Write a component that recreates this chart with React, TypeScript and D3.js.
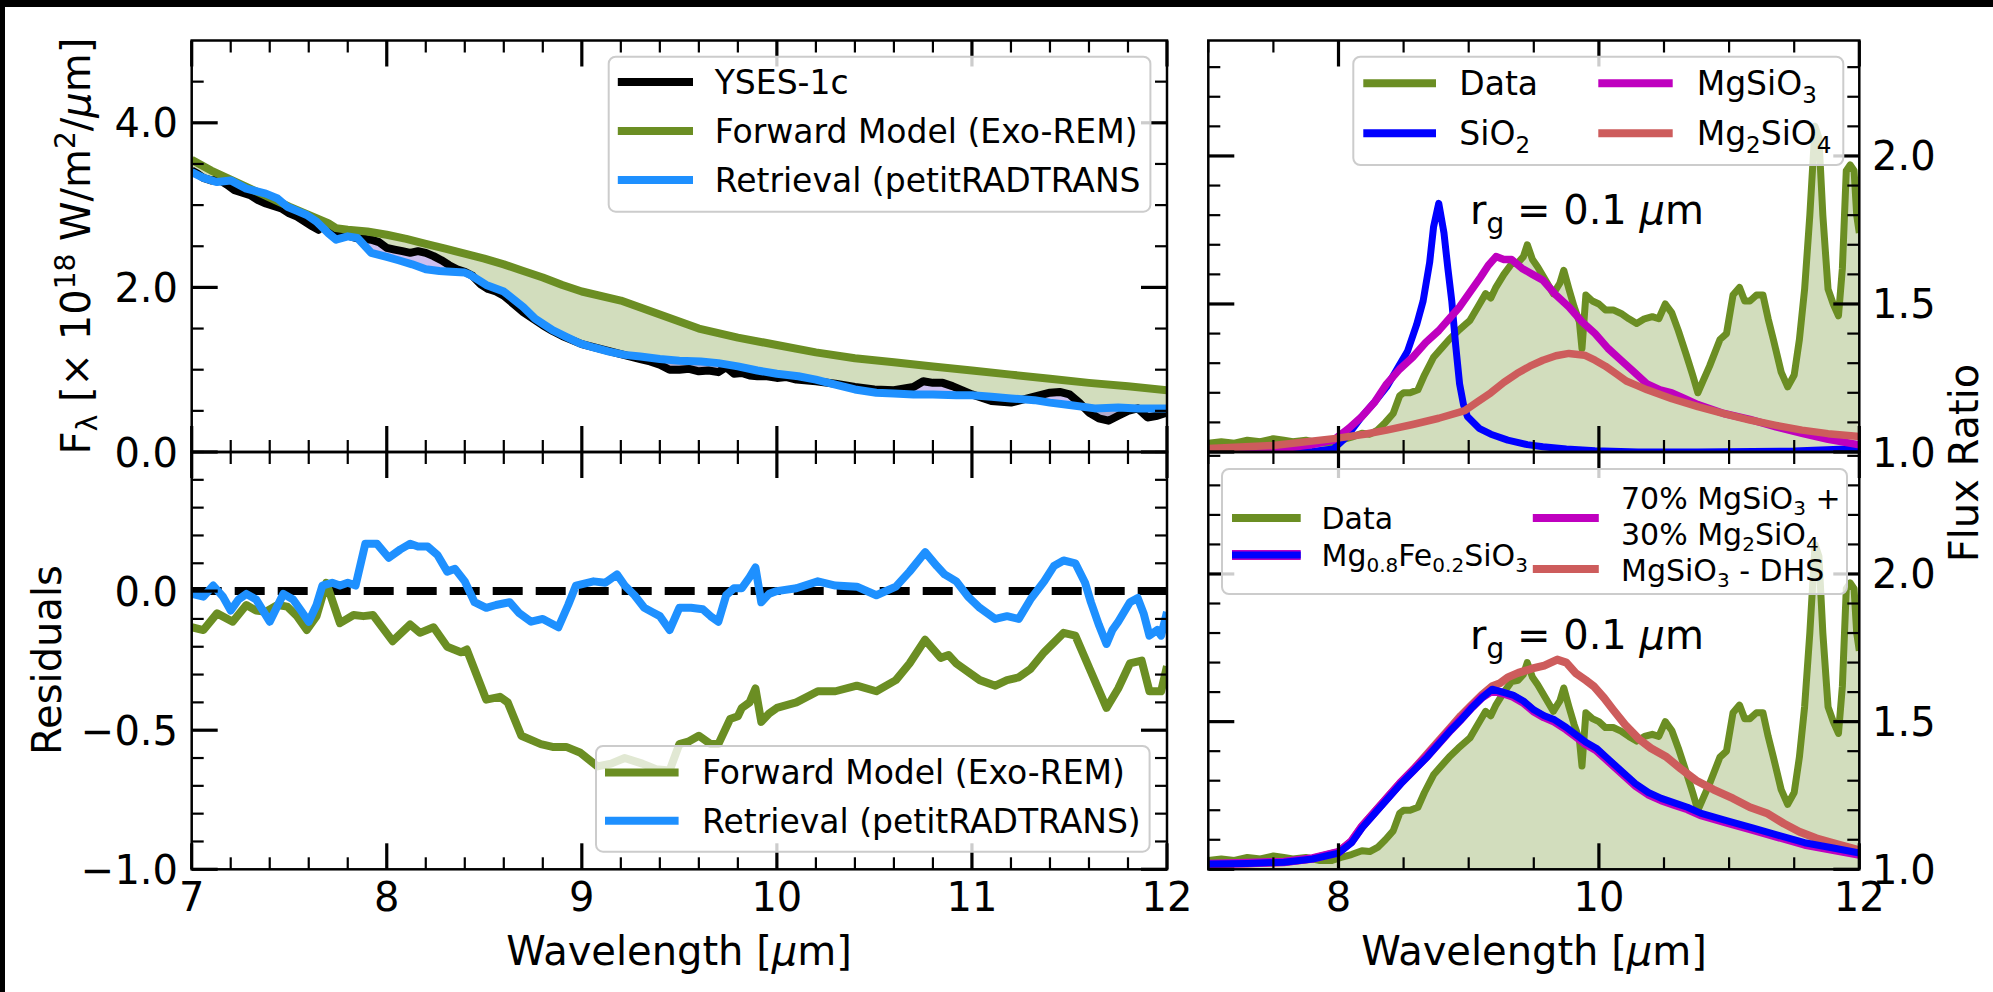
import React from 'react';
import * as d3 from 'd3';

const FONT = 'DejaVu Sans, sans-serif';

// ---------- Top-left: spectra ----------
const fwdWl = [7.0, 7.1, 7.2, 7.3, 7.4, 7.5, 7.6, 7.7, 7.74, 7.8, 7.9, 8.0, 8.1, 8.2, 8.3, 8.4, 8.5, 8.6, 8.7, 8.8, 8.9, 9.0, 9.2, 9.4, 9.6, 9.8, 10.0, 10.2, 10.4, 10.6, 10.8, 11.0, 11.2, 11.4, 11.6, 11.8, 12.0];
const fwdFlux = [3.55, 3.42, 3.31, 3.2, 3.09, 2.98, 2.88, 2.78, 2.72, 2.7, 2.68, 2.64, 2.59, 2.53, 2.47, 2.41, 2.35, 2.28, 2.2, 2.12, 2.03, 1.95, 1.84, 1.67, 1.5, 1.39, 1.3, 1.21, 1.14, 1.09, 1.04, 0.99, 0.94, 0.89, 0.84, 0.8, 0.75];

const dataWl = [7.0, 7.03, 7.06, 7.1, 7.14, 7.18, 7.22, 7.26, 7.3, 7.34, 7.38, 7.42, 7.46, 7.5, 7.54, 7.58, 7.62, 7.65, 7.68, 7.72, 7.76, 7.8, 7.84, 7.88, 7.92, 7.96, 8.0, 8.04, 8.08, 8.12, 8.16, 8.2, 8.24, 8.28, 8.32, 8.36, 8.4, 8.44, 8.48, 8.52, 8.56, 8.6, 8.65, 8.7, 8.75, 8.8, 8.85, 8.9, 8.95, 9.0, 9.05, 9.1, 9.15, 9.2, 9.25, 9.3, 9.35, 9.4, 9.45, 9.5, 9.55, 9.6, 9.65, 9.7, 9.74, 9.78, 9.82, 9.86, 9.9, 9.95, 10.0, 10.05, 10.1, 10.2, 10.3, 10.4, 10.5, 10.6, 10.7, 10.75, 10.8, 10.85, 10.9, 11.0, 11.1, 11.2, 11.3, 11.4, 11.45, 11.5, 11.55, 11.6, 11.65, 11.7, 11.75, 11.8, 11.85, 11.9, 11.95, 12.0];
const dataFlux = [3.42, 3.38, 3.33, 3.3, 3.31, 3.25, 3.18, 3.15, 3.12, 3.06, 3.02, 2.99, 2.96, 2.9, 2.86, 2.8, 2.74, 2.7, 2.78, 2.7, 2.62, 2.63, 2.6, 2.59, 2.58, 2.55, 2.48, 2.46, 2.44, 2.42, 2.44, 2.42, 2.38, 2.33, 2.27, 2.22, 2.19, 2.14, 2.04, 1.98, 1.95, 1.9, 1.8, 1.7, 1.62, 1.54, 1.47, 1.41, 1.36, 1.31, 1.28, 1.25, 1.22, 1.19, 1.16, 1.13, 1.1, 1.06, 1.0, 1.0, 1.01, 0.98, 0.99, 0.97, 1.03, 0.95, 0.96, 0.93, 0.92, 0.92, 0.9, 0.91, 0.88, 0.86, 0.83, 0.79, 0.76, 0.75, 0.79, 0.86, 0.84, 0.84, 0.8, 0.7, 0.62, 0.6, 0.66, 0.72, 0.73, 0.7, 0.6, 0.48, 0.41, 0.38, 0.44, 0.5, 0.53, 0.42, 0.44, 0.48];

const retWl = [7.0, 7.06, 7.13, 7.2, 7.28, 7.38, 7.44, 7.49, 7.54, 7.59, 7.64, 7.7, 7.74, 7.8, 7.85, 7.92, 8.0, 8.06, 8.13, 8.2, 8.27, 8.33, 8.4, 8.43, 8.51, 8.6, 8.7, 8.76, 8.85, 8.92, 8.99, 9.06, 9.14, 9.22, 9.3, 9.4, 9.5, 9.61, 9.7, 9.8, 9.9, 10.0, 10.11, 10.2, 10.3, 10.4, 10.51, 10.6, 10.7, 10.8, 10.92, 11.0, 11.1, 11.2, 11.32, 11.4, 11.5, 11.63, 11.75, 11.85, 12.0];
const retFlux = [3.4, 3.33, 3.28, 3.3, 3.2, 3.14, 3.08, 2.98, 2.93, 2.88, 2.8, 2.66, 2.58, 2.62, 2.6, 2.42, 2.37, 2.33, 2.28, 2.22, 2.2, 2.19, 2.18, 2.15, 2.03, 1.95, 1.76, 1.62, 1.48, 1.4, 1.32, 1.27, 1.22, 1.18, 1.16, 1.13, 1.11, 1.1, 1.08, 1.04, 0.99, 0.95, 0.92, 0.88, 0.82, 0.76, 0.72, 0.71, 0.7, 0.7, 0.69, 0.69, 0.67, 0.65, 0.63, 0.6, 0.57, 0.53, 0.54, 0.53, 0.53];

// ---------- Bottom-left: residuals ----------
const resFwdWl = [7.0, 7.06, 7.13, 7.21, 7.28, 7.33, 7.38, 7.44, 7.49, 7.54, 7.59, 7.64, 7.69, 7.76, 7.83, 7.88, 7.93, 8.03, 8.12, 8.17, 8.24, 8.31, 8.38, 8.41, 8.51, 8.58, 8.62, 8.69, 8.79, 8.85, 8.92, 8.99, 9.08, 9.15, 9.22, 9.31, 9.38, 9.45, 9.5, 9.55, 9.6, 9.66, 9.7, 9.76, 9.8, 9.82, 9.86, 9.89, 9.92, 9.96, 10.0, 10.1, 10.21, 10.3, 10.41, 10.51, 10.61, 10.68, 10.76, 10.84, 10.88, 10.92, 11.04, 11.12, 11.18, 11.24, 11.3, 11.37, 11.47, 11.53, 11.61, 11.69, 11.75, 11.81, 11.87, 11.91, 11.97, 12.0];
const resFwdVal = [-0.13, -0.14, -0.08, -0.11, -0.05, -0.07, -0.074, -0.05, -0.056, -0.09, -0.14, -0.09, 0.03, -0.115, -0.086, -0.09, -0.086, -0.18, -0.12, -0.15, -0.13, -0.2, -0.22, -0.21, -0.39, -0.38, -0.4, -0.52, -0.55, -0.56, -0.56, -0.58, -0.63, -0.62, -0.6, -0.62, -0.64, -0.645, -0.55, -0.54, -0.52, -0.55, -0.55, -0.46, -0.45, -0.42, -0.4, -0.35, -0.47, -0.44, -0.42, -0.4, -0.36, -0.36, -0.34, -0.36, -0.32, -0.26, -0.175, -0.24, -0.23, -0.26, -0.32, -0.34, -0.32, -0.31, -0.28, -0.22, -0.15, -0.16, -0.29, -0.42, -0.35, -0.26, -0.25, -0.36, -0.36, -0.27];

const resRetWl = [7.0, 7.06, 7.11, 7.16, 7.2, 7.24, 7.28, 7.33, 7.4, 7.47, 7.52, 7.56, 7.6, 7.64, 7.67, 7.72, 7.76, 7.8, 7.84, 7.89, 7.95, 8.01, 8.07, 8.12, 8.16, 8.21, 8.26, 8.31, 8.35, 8.4, 8.45, 8.51, 8.56, 8.63, 8.68, 8.74, 8.8, 8.88, 8.93, 8.97, 9.06, 9.12, 9.18, 9.22, 9.27, 9.32, 9.36, 9.4, 9.45, 9.5, 9.56, 9.62, 9.66, 9.7, 9.74, 9.78, 9.82, 9.86, 9.89, 9.92, 9.96, 10.0, 10.1, 10.21, 10.3, 10.41, 10.51, 10.61, 10.68, 10.76, 10.82, 10.86, 10.92, 10.98, 11.04, 11.12, 11.18, 11.24, 11.3, 11.37, 11.42, 11.47, 11.53, 11.58, 11.61, 11.65, 11.69, 11.72, 11.75, 11.81, 11.85, 11.88, 11.91, 11.95, 11.97, 12.0];
const resRetVal = [-0.01, -0.02, 0.02, -0.02, -0.07, -0.03, -0.01, -0.03, -0.11, -0.01, -0.03, -0.07, -0.11, -0.05, 0.02, 0.03, 0.02, 0.03, 0.02, 0.17, 0.17, 0.12, 0.15, 0.17, 0.16, 0.16, 0.13, 0.07, 0.08, 0.035, -0.04, -0.06, -0.05, -0.04, -0.08, -0.11, -0.1, -0.13, -0.05, 0.02, 0.035, 0.03, 0.06, 0.02, -0.015, -0.06, -0.075, -0.09, -0.14, -0.06, -0.06, -0.065, -0.09, -0.11, -0.015, 0.01, 0.01, 0.05, 0.085, -0.04, -0.01, 0.0, 0.01, 0.035, 0.02, 0.016, -0.015, 0.016, 0.07, 0.14, 0.09, 0.06, 0.035, -0.02, -0.06, -0.1, -0.09, -0.1, -0.03, 0.035, 0.09, 0.11, 0.1, 0.03, -0.04, -0.12, -0.19, -0.14, -0.11, -0.04, -0.025, -0.08, -0.16, -0.14, -0.16, -0.075];

// ---------- Right panels: flux ratio ----------
const ratioWl = [7.0, 7.1, 7.2, 7.3, 7.4, 7.5, 7.58, 7.65, 7.75, 7.85, 7.95, 8.02, 8.1, 8.18, 8.24, 8.3, 8.36, 8.42, 8.47, 8.5, 8.55, 8.61, 8.66, 8.73, 8.79, 8.85, 8.92, 9.01, 9.07, 9.13, 9.17, 9.21, 9.27, 9.33, 9.38, 9.42, 9.45, 9.49, 9.53, 9.59, 9.65, 9.7, 9.73, 9.77, 9.81, 9.85, 9.87, 9.9, 9.95, 10.0, 10.05, 10.11, 10.17, 10.23, 10.29, 10.35, 10.41, 10.46, 10.51, 10.56, 10.61, 10.67, 10.72, 10.76, 10.8, 10.85, 10.93, 10.98, 11.03, 11.08, 11.12, 11.16, 11.21, 11.26, 11.3, 11.34, 11.4, 11.45, 11.5, 11.54, 11.58, 11.62, 11.66, 11.69, 11.72, 11.76, 11.8, 11.84, 11.87, 11.9, 11.93, 11.96, 11.98, 12.0];
const ratioVal = [1.03, 1.035, 1.03, 1.04, 1.035, 1.045, 1.04, 1.035, 1.04, 1.03, 1.03, 1.04, 1.05, 1.063, 1.06, 1.074, 1.1, 1.13, 1.19, 1.2, 1.2, 1.21, 1.26, 1.32, 1.35, 1.38, 1.41, 1.445, 1.49, 1.535, 1.52, 1.557, 1.6, 1.636, 1.64, 1.66, 1.7, 1.65, 1.625, 1.58, 1.535, 1.57, 1.614, 1.55, 1.49, 1.44, 1.35, 1.53, 1.51, 1.5, 1.48, 1.48, 1.468, 1.45, 1.434, 1.45, 1.457, 1.45, 1.5, 1.47, 1.41, 1.33, 1.26, 1.2, 1.24, 1.29, 1.38, 1.4, 1.53, 1.556, 1.51, 1.51, 1.53, 1.53, 1.45, 1.38, 1.27, 1.22, 1.26, 1.38, 1.55, 1.8, 2.1, 2.06, 1.8, 1.55, 1.5, 1.46, 1.62, 1.95, 1.97, 1.95, 1.8, 1.74];

const sio2Wl = [7.0, 7.5, 7.8, 7.96, 8.06, 8.18, 8.28, 8.37, 8.45, 8.53, 8.6, 8.65, 8.7, 8.73, 8.77, 8.81, 8.84, 8.87, 8.9, 8.93, 8.96, 8.99, 9.08, 9.17, 9.3, 9.45, 9.57, 9.75, 9.97, 10.3, 10.76, 11.5, 12.0];
const sio2Val = [1.0, 1.0, 1.002, 1.01, 1.05, 1.12, 1.17, 1.22, 1.28, 1.34, 1.43, 1.51, 1.64, 1.76, 1.84, 1.74, 1.62, 1.51, 1.36, 1.23, 1.16, 1.12, 1.08, 1.06, 1.04, 1.025, 1.018, 1.01, 1.004, 1.0, 1.0, 1.003, 1.012];

const mgsio3Wl = [7.0, 7.3, 7.58, 7.8, 7.96, 8.08, 8.18, 8.28, 8.37, 8.47, 8.57, 8.67, 8.77, 8.85, 8.93, 9.01, 9.09, 9.15, 9.21, 9.27, 9.33, 9.41, 9.49, 9.57, 9.67, 9.77, 9.87, 9.97, 10.07, 10.17, 10.27, 10.37, 10.47, 10.56, 10.66, 10.76, 10.96, 11.16, 11.36, 11.56, 11.76, 12.0];
const mgsio3Val = [1.007, 1.008, 1.012, 1.025, 1.04, 1.08, 1.12, 1.17, 1.23, 1.28, 1.32, 1.37, 1.41, 1.45, 1.49, 1.54, 1.59, 1.63, 1.66, 1.65, 1.65, 1.62, 1.6, 1.58, 1.53, 1.49, 1.44, 1.4, 1.35, 1.31, 1.27, 1.23, 1.21, 1.2, 1.18, 1.16, 1.13, 1.11, 1.085, 1.063, 1.043, 1.024];

const mg2sio4Wl = [7.0, 7.5, 7.98, 8.2, 8.37, 8.57, 8.77, 8.97, 9.07, 9.17, 9.27, 9.37, 9.47, 9.57, 9.67, 9.77, 9.89, 9.97, 10.05, 10.13, 10.21, 10.29, 10.37, 10.56, 10.76, 10.96, 11.16, 11.36, 11.56, 11.76, 12.0];
const mg2sio4Val = [1.012, 1.022, 1.046, 1.06, 1.074, 1.093, 1.114, 1.14, 1.17, 1.2, 1.235, 1.265, 1.29, 1.31, 1.325, 1.333, 1.327, 1.31, 1.29, 1.265, 1.24, 1.225, 1.21, 1.18, 1.153, 1.13, 1.108, 1.09, 1.074, 1.062, 1.052];

const mgfeWl = [7.0, 7.3, 7.58, 7.8, 8.0, 8.1, 8.18, 8.28, 8.38, 8.48, 8.58, 8.68, 8.78, 8.86, 8.94, 9.02, 9.1, 9.18, 9.26, 9.34, 9.42, 9.5, 9.58, 9.66, 9.75, 9.82, 9.9, 9.98, 10.08, 10.18, 10.28, 10.38, 10.48, 10.58, 10.68, 10.78, 10.98, 11.18, 11.38, 11.58, 11.8, 12.0];
const mgfeVal = [1.018, 1.02, 1.024, 1.035, 1.055, 1.09, 1.14, 1.19, 1.24, 1.29, 1.335, 1.38, 1.43, 1.47, 1.506, 1.545, 1.58, 1.61, 1.6, 1.59, 1.57, 1.54, 1.52, 1.506, 1.48, 1.457, 1.43, 1.41, 1.37, 1.33, 1.29, 1.26, 1.24, 1.225, 1.21, 1.19, 1.165, 1.14, 1.115, 1.09, 1.072, 1.055];

const mixWl = [7.0, 7.3, 7.58, 7.8, 8.0, 8.1, 8.18, 8.28, 8.38, 8.48, 8.58, 8.68, 8.78, 8.86, 8.94, 9.02, 9.1, 9.18, 9.26, 9.34, 9.42, 9.5, 9.58, 9.66, 9.75, 9.82, 9.9, 9.98, 10.08, 10.18, 10.28, 10.38, 10.48, 10.58, 10.68, 10.78, 10.98, 11.18, 11.38, 11.58, 11.8, 12.0];
const mixVal = [1.018, 1.021, 1.025, 1.037, 1.058, 1.094, 1.144, 1.194, 1.244, 1.294, 1.338, 1.383, 1.432, 1.472, 1.508, 1.547, 1.582, 1.605, 1.597, 1.585, 1.565, 1.535, 1.515, 1.5, 1.474, 1.451, 1.424, 1.404, 1.364, 1.324, 1.284, 1.254, 1.234, 1.219, 1.204, 1.184, 1.159, 1.134, 1.109, 1.084, 1.066, 1.05];

const dhsWl = [7.0, 7.3, 7.58, 7.8, 8.0, 8.1, 8.18, 8.28, 8.38, 8.48, 8.58, 8.68, 8.78, 8.86, 8.94, 9.02, 9.1, 9.18, 9.24, 9.3, 9.38, 9.49, 9.58, 9.68, 9.75, 9.82, 9.9, 9.96, 10.04, 10.11, 10.2, 10.31, 10.4, 10.52, 10.63, 10.75, 10.88, 11.03, 11.16, 11.29, 11.42, 11.54, 11.67, 11.8, 12.0];
const dhsVal = [1.018, 1.02, 1.025, 1.036, 1.058, 1.095, 1.145, 1.195, 1.245, 1.295, 1.34, 1.39, 1.44, 1.48, 1.52, 1.555, 1.59, 1.62, 1.63, 1.65, 1.665, 1.68, 1.69, 1.71, 1.7, 1.665, 1.64, 1.62, 1.58, 1.54, 1.49, 1.44, 1.41, 1.38, 1.34, 1.3, 1.27, 1.24, 1.21, 1.19, 1.155, 1.127, 1.105, 1.089, 1.065];

// ---------- ticks ----------
const leftXMajor = [7, 8, 9, 10, 11, 12];
const topLeftYMajor = [0, 2, 4];
const resYMajor = [-1, -0.5, 0];
const rightXMajor = [8, 10, 12];
const rightYMajor = [1, 1.5, 2];

const C = {
  green: '#6B8E23',
  dodger: '#1E90FF',
  blue: '#0000FF',
  magenta: '#BF00BF',
  red: '#CD5C5C',
  purple: '#9370DB',
};

// scales
const LX = d3.scaleLinear().domain([7, 12]).range([191.7, 1167]);
const RX = d3.scaleLinear().domain([7, 12]).range([1208.3, 1859.3]);
const TLY = d3.scaleLinear().domain([0, 5]).range([452, 40.5]);
const BLY = d3.scaleLinear().domain([-1, 0.5]).range([869.3, 452]);
const TRY = d3.scaleLinear().domain([1, 2.39]).range([452, 40.5]);
const BRY = d3.scaleLinear().domain([1, 2.413]).range([869.3, 452]);

const pts = (xs: number[], ys: number[], sx: any, sy: any) => xs.map((x, i) => [sx(x), sy(ys[i])] as [number, number]);
const line = (xs: number[], ys: number[], sx: any, sy: any) => d3.line()(pts(xs, ys, sx, sy)) as string;
const band = (xa: number[], ya: number[], xb: number[], yb: number[], sx: any, sy: any) =>
  (d3.line()([...pts(xa, ya, sx, sy), ...pts(xb, yb, sx, sy).reverse()]) as string) + 'Z';
const under = (xs: number[], ys: number[], sx: any, sy: any) =>
  d3.area<[number, number]>().x((d) => d[0]).y0(sy.range()[0]).y1((d) => d[1])(pts(xs, ys, sx, sy)) as string;

const minorRange = (a: number, b: number, step: number, major: number[]) =>
  d3.range(a, b + step / 2, step).filter((v) => !major.some((m) => Math.abs(m - v) < 1e-6));

const MAJ = 26;
const MIN = 12;

function Frame({ sx, sy, xMaj, xMin, yMaj, yMin }: any) {
  const [x0, x1] = sx.range();
  const [yb, yt] = sy.range();
  const els: any[] = [];
  xMaj.forEach((v: number, i: number) => {
    const x = sx(v);
    els.push(<line key={'xM' + i} x1={x} x2={x} y1={yb} y2={yb - MAJ} strokeWidth={3.2} />);
    els.push(<line key={'xMt' + i} x1={x} x2={x} y1={yt} y2={yt + MAJ} strokeWidth={3.2} />);
  });
  xMin.forEach((v: number, i: number) => {
    const x = sx(v);
    els.push(<line key={'xm' + i} x1={x} x2={x} y1={yb} y2={yb - MIN} strokeWidth={2.2} />);
    els.push(<line key={'xmt' + i} x1={x} x2={x} y1={yt} y2={yt + MIN} strokeWidth={2.2} />);
  });
  yMaj.forEach((v: number, i: number) => {
    const y = sy(v);
    els.push(<line key={'yM' + i} x1={x0} x2={x0 + MAJ} y1={y} y2={y} strokeWidth={3.2} />);
    els.push(<line key={'yMr' + i} x1={x1} x2={x1 - MAJ} y1={y} y2={y} strokeWidth={3.2} />);
  });
  yMin.forEach((v: number, i: number) => {
    const y = sy(v);
    els.push(<line key={'ym' + i} x1={x0} x2={x0 + MIN} y1={y} y2={y} strokeWidth={2.2} />);
    els.push(<line key={'ymr' + i} x1={x1} x2={x1 - MIN} y1={y} y2={y} strokeWidth={2.2} />);
  });
  return (
    <g stroke="#000">
      {els}
      <rect x={x0} y={yt} width={x1 - x0} height={yb - yt} fill="none" strokeWidth={2.5} />
    </g>
  );
}

const fmt = (v: number) => (v < 0 ? '\u2212' : '') + Math.abs(v).toFixed(1);

function Clip({ id, sx, sy }: any) {
  const [x0, x1] = sx.range();
  const [yb, yt] = sy.range();
  return (
    <clipPath id={id}>
      <rect x={x0} y={yt} width={x1 - x0} height={yb - yt} />
    </clipPath>
  );
}

const LegBox = ({ x0, x1, y0, y1 }: any) => (
  <rect x={x0} y={y0} width={x1 - x0} height={y1 - y0} rx={7} fill="#fff" fillOpacity={0.8} stroke="#cccccc" strokeWidth={2} />
);

const Handle = ({ x0, x1, y, color, w = 8 }: any) => (
  <line x1={x0} x2={x1} y1={y} y2={y} stroke={color} strokeWidth={w} />
);

export default function App() {
  const lw = 8;
  const rw = 7;
  const leftXMinor = minorRange(7, 12, 0.2, leftXMajor);
  const rightXMinor = minorRange(7, 12, 0.5, rightXMajor);
  const tlYMinor = minorRange(0, 4.5, 0.5, topLeftYMajor);
  const resYMinor = minorRange(-1, 0.5, 0.1, resYMajor);
  const trYMinor = minorRange(1, 2.35, 0.1, rightYMajor);
  const brYMinor = minorRange(1, 2.4, 0.1, rightYMajor);

  const sub = (t: string, fs: number, d: number) => (
    <tspan dy={d} fontSize={fs}>{t}</tspan>
  );

  return (
    <svg width={1993} height={992} style={{ position: 'absolute', left: 0, top: 0 }} fontFamily={FONT}>
      <rect x={0} y={0} width={1993} height={992} fill="#fff" />
      <rect x={0} y={0} width={1993} height={7} fill="#000" />
      <rect x={0} y={0} width={5} height={992} fill="#000" />
      <defs>
        <Clip id="cTL" sx={LX} sy={TLY} />
        <Clip id="cBL" sx={LX} sy={BLY} />
        <Clip id="cTR" sx={RX} sy={TRY} />
        <Clip id="cBR" sx={RX} sy={BRY} />
      </defs>

      {/* ---------- Top-left ---------- */}
      <g clipPath="url(#cTL)" fill="none" strokeLinejoin="round" strokeLinecap="butt">
        <path d={band(fwdWl, fwdFlux, dataWl, dataFlux, LX, TLY)} fill={C.green} fillOpacity={0.3} stroke="none" />
        <path d={band(dataWl, dataFlux, retWl, retFlux, LX, TLY)} fill={C.purple} fillOpacity={0.45} stroke="none" />
        <path d={line(dataWl, dataFlux, LX, TLY)} stroke="#000" strokeWidth={lw} />
        <path d={line(fwdWl, fwdFlux, LX, TLY)} stroke={C.green} strokeWidth={lw} />
        <path d={line(retWl, retFlux, LX, TLY)} stroke={C.dodger} strokeWidth={lw} />
      </g>
      <Frame sx={LX} sy={TLY} xMaj={leftXMajor} xMin={leftXMinor} yMaj={topLeftYMajor} yMin={tlYMinor} />
      <g fontSize={40} textAnchor="end">
        {topLeftYMajor.map((v) => (
          <text key={v} x={178} y={TLY(v) + 14.5}>{fmt(v)}</text>
        ))}
      </g>

      {/* ---------- Bottom-left ---------- */}
      <g clipPath="url(#cBL)" fill="none" strokeLinejoin="round">
        <line x1={LX(7)} x2={LX(12)} y1={BLY(0)} y2={BLY(0)} stroke="#000" strokeWidth={8} strokeDasharray="30 13" />
        <path d={line(resFwdWl, resFwdVal, LX, BLY)} stroke={C.green} strokeWidth={lw} />
        <path d={line(resRetWl, resRetVal, LX, BLY)} stroke={C.dodger} strokeWidth={lw} />
      </g>
      <Frame sx={LX} sy={BLY} xMaj={leftXMajor} xMin={leftXMinor} yMaj={resYMajor} yMin={resYMinor} />
      <g fontSize={40} textAnchor="end">
        {resYMajor.map((v) => (
          <text key={v} x={178} y={BLY(v) + 14.5}>{fmt(v)}</text>
        ))}
      </g>
      <g fontSize={40} textAnchor="middle">
        {leftXMajor.map((v) => (
          <text key={v} x={LX(v)} y={911}>{v}</text>
        ))}
      </g>

      {/* ---------- Top-right ---------- */}
      <g clipPath="url(#cTR)" fill="none" strokeLinejoin="round">
        <path d={under(ratioWl, ratioVal, RX, TRY)} fill={C.green} fillOpacity={0.3} stroke="none" />
        <path d={line(ratioWl, ratioVal, RX, TRY)} stroke={C.green} strokeWidth={rw} />
        <path d={line(sio2Wl, sio2Val, RX, TRY)} stroke={C.blue} strokeWidth={rw} />
        <path d={line(mgsio3Wl, mgsio3Val, RX, TRY)} stroke={C.magenta} strokeWidth={rw + 0.5} />
        <path d={line(mg2sio4Wl, mg2sio4Val, RX, TRY)} stroke={C.red} strokeWidth={rw + 0.5} />
      </g>
      <Frame sx={RX} sy={TRY} xMaj={rightXMajor} xMin={rightXMinor} yMaj={rightYMajor} yMin={trYMinor} />
      <g fontSize={40} textAnchor="start">
        {rightYMajor.map((v) => (
          <text key={v} x={1872} y={TRY(v) + 14.5}>{fmt(v)}</text>
        ))}
      </g>

      {/* ---------- Bottom-right ---------- */}
      <g clipPath="url(#cBR)" fill="none" strokeLinejoin="round">
        <path d={under(ratioWl, ratioVal, RX, BRY)} fill={C.green} fillOpacity={0.3} stroke="none" />
        <path d={line(ratioWl, ratioVal, RX, BRY)} stroke={C.green} strokeWidth={rw} />
        <path d={line(dhsWl, dhsVal, RX, BRY)} stroke={C.red} strokeWidth={rw + 1} />
        <path d={line(mixWl, mixVal, RX, BRY)} stroke={C.magenta} strokeWidth={rw + 1.5} />
        <path d={line(mgfeWl, mgfeVal, RX, BRY)} stroke={C.blue} strokeWidth={rw} />
      </g>
      <Frame sx={RX} sy={BRY} xMaj={rightXMajor} xMin={rightXMinor} yMaj={rightYMajor} yMin={brYMinor} />
      <g fontSize={40} textAnchor="start">
        {rightYMajor.map((v) => (
          <text key={v} x={1872} y={BRY(v) + 14.5}>{fmt(v)}</text>
        ))}
      </g>
      <g fontSize={40} textAnchor="middle">
        {rightXMajor.map((v) => (
          <text key={v} x={RX(v)} y={911}>{v}</text>
        ))}
      </g>

      {/* ---------- annotations ---------- */}
      <text x={1470} y={224} fontSize={40}>
        r{sub('g', 28, 9)}<tspan dy={-9}> = 0.1 </tspan><tspan fontStyle="italic">μ</tspan>m
      </text>
      <text x={1470} y={649} fontSize={40}>
        r{sub('g', 28, 9)}<tspan dy={-9}> = 0.1 </tspan><tspan fontStyle="italic">μ</tspan>m
      </text>

      {/* ---------- axis labels ---------- */}
      <text x={679} y={965} fontSize={40} textAnchor="middle">
        Wavelength [<tspan fontStyle="italic">μ</tspan>m]
      </text>
      <text x={1534} y={965} fontSize={40} textAnchor="middle">
        Wavelength [<tspan fontStyle="italic">μ</tspan>m]
      </text>
      <text transform="translate(90,246) rotate(-90)" fontSize={40} textAnchor="middle">
        F<tspan dy={7} fontSize={28}>λ</tspan>
        <tspan dy={-7}> [× 10</tspan>
        <tspan dy={-15} fontSize={28}>18</tspan>
        <tspan dy={15}> W/m</tspan>
        <tspan dy={-15} fontSize={28}>2</tspan>
        <tspan dy={15}>/</tspan>
        <tspan fontStyle="italic">μ</tspan>m]
      </text>
      <text transform="translate(61,660) rotate(-90)" fontSize={40} textAnchor="middle">Residuals</text>
      <text transform="translate(1978,463) rotate(-90)" fontSize={40} textAnchor="middle">Flux Ratio</text>

      {/* ---------- legends ---------- */}
      <g fontSize={33}>
        <LegBox x0={608.7} x1={1150.4} y0={56.7} y1={211.7} />
        <Handle x0={617.8} x1={693} y={82} color="#000" />
        <Handle x0={617.8} x1={693} y={131} color={C.green} />
        <Handle x0={617.8} x1={693} y={180} color={C.dodger} />
        <text x={714.7} y={94}>YSES-1c</text>
        <text x={714.7} y={143}>Forward Model (Exo-REM)</text>
        <text x={714.7} y={192}>Retrieval (petitRADTRANS</text>
      </g>
      <g fontSize={33}>
        <LegBox x0={596} x1={1149.6} y0={746} y1={851.7} />
        <Handle x0={605} x1={678.6} y={772.4} color={C.green} />
        <Handle x0={605} x1={678.6} y={820.7} color={C.dodger} />
        <text x={702} y={784.4}>Forward Model (Exo-REM)</text>
        <text x={702} y={832.7}>Retrieval (petitRADTRANS)</text>
      </g>
      <g fontSize={33}>
        <LegBox x0={1353.3} x1={1843.3} y0={56.7} y1={165} />
        <Handle x0={1363.3} x1={1436} y={83.3} color={C.green} />
        <Handle x0={1363.3} x1={1436} y={133.3} color={C.blue} />
        <Handle x0={1598.3} x1={1672.7} y={83.3} color={C.magenta} />
        <Handle x0={1598.3} x1={1672.7} y={133.3} color={C.red} />
        <text x={1459.3} y={95.3}>Data</text>
        <text x={1459.3} y={145.3}>SiO{sub('2', 23, 8)}</text>
        <text x={1696.7} y={95.3}>MgSiO{sub('3', 23, 8)}</text>
        <text x={1696.7} y={145.3}>Mg{sub('2', 23, 8)}<tspan dy={-8}>SiO</tspan>{sub('4', 23, 8)}</text>
      </g>
      <g fontSize={30}>
        <LegBox x0={1222} x1={1847} y0={469} y1={594} />
        <Handle x0={1232} x1={1300.7} y={518} color={C.green} />
        <Handle x0={1232} x1={1300.7} y={555} color={C.magenta} w={10} />
        <Handle x0={1232} x1={1300.7} y={555} color={C.blue} w={7} />
        <Handle x0={1532.8} x1={1598.8} y={518} color={C.magenta} />
        <Handle x0={1532.8} x1={1598.8} y={569} color={C.red} />
        <text x={1321.5} y={529}>Data</text>
        <text x={1321.5} y={566}>
          Mg{sub('0.8', 20, 6)}<tspan dy={-6}>Fe</tspan>{sub('0.2', 20, 6)}<tspan dy={-6}>SiO</tspan>{sub('3', 20, 6)}
        </text>
        <text x={1621} y={509}>70% MgSiO{sub('3', 20, 6)}<tspan dy={-6}> +</tspan></text>
        <text x={1621} y={545}>30% Mg{sub('2', 20, 6)}<tspan dy={-6}>SiO</tspan>{sub('4', 20, 6)}</text>
        <text x={1621} y={581}>MgSiO{sub('3', 20, 6)}<tspan dy={-6}> - DHS</tspan></text>
      </g>
    </svg>
  );
}
